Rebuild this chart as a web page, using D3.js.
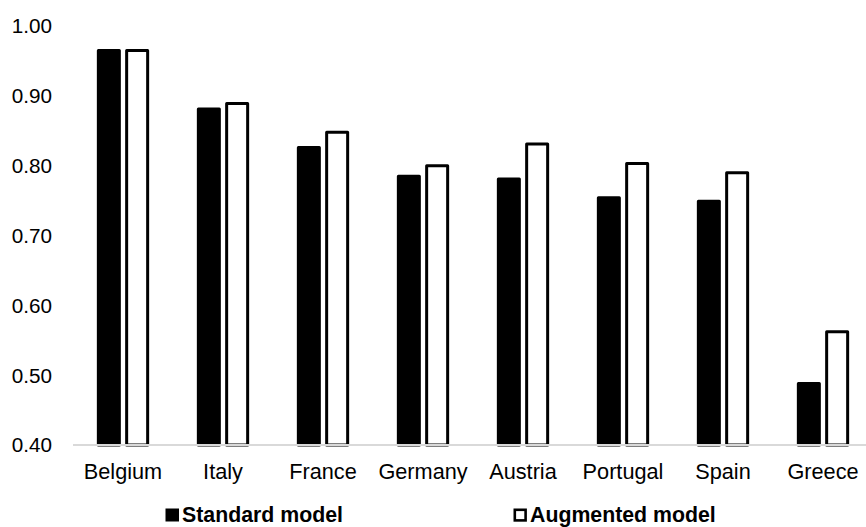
<!DOCTYPE html>
<html>
<head>
<meta charset="utf-8">
<script src="https://cdn.jsdelivr.net/npm/d3@7"></script>
<style>
  html, body { margin: 0; padding: 0; background: #fff; }
  svg { display: block; }
  text { font-family: "Liberation Sans", Arial, sans-serif; fill: #000; }
</style>
</head>
<body>
<svg id="chart" width="866" height="527"></svg>
<script>
const categories = ["Belgium", "Italy", "France", "Germany", "Austria", "Portugal", "Spain", "Greece"];
const seriesNames = ["Standard model", "Augmented model"];
const standardValues = [0.965, 0.881, 0.826, 0.785, 0.781, 0.754, 0.749, 0.488];
const augmentedValues = [0.965, 0.889, 0.848, 0.800, 0.831, 0.803, 0.790, 0.562];
const yTicks = [0.40, 0.50, 0.60, 0.70, 0.80, 0.90, 1.00];

const svg = d3.select("#chart");

const x0 = d3.scaleBand().domain(categories).range([73, 873]).padding(0);
const x1 = d3.scaleBand().domain(seriesNames).range([50 - 26.15, 50 + 26.15]).paddingInner(0.152).paddingOuter(0);
const y = d3.scaleLinear().domain([0.4, 1.0]).range([445, 26]);

const fills = { "Standard model": "#000", "Augmented model": "#fff" };
const seriesValues = { "Standard model": standardValues, "Augmented model": augmentedValues };

// Y tick labels
svg.append("g").selectAll("text").data(yTicks).join("text")
  .attr("x", 52)
  .attr("y", d => y(d))
  .attr("dy", "0.36em")
  .attr("text-anchor", "end")
  .style("font-size", "20.7px")
  .text(d => d.toFixed(2));

// Bars
const groups = svg.append("g").selectAll("g").data(categories).join("g")
  .attr("transform", d => `translate(${x0(d)},0)`);

groups.selectAll("rect").data((c, i) => seriesNames.map(s => ({ s, v: seriesValues[s][i] }))).join("rect")
  .attr("x", d => x1(d.s) + 1.5)
  .attr("width", x1.bandwidth() - 3)
  .attr("y", d => y(d.v))
  .attr("height", d => y(0.4) - y(d.v))
  .attr("fill", d => fills[d.s])
  .attr("stroke", "#000")
  .attr("stroke-width", 3)
  .attr("stroke-linejoin", "round");

// Baseline axis line
svg.append("line")
  .attr("x1", 73).attr("x2", 866)
  .attr("y1", y(0.4)).attr("y2", y(0.4))
  .attr("stroke", "#d9d9d9").attr("stroke-width", 2);

// Category labels
svg.append("g").selectAll("text").data(categories).join("text")
  .attr("x", d => x0(d) + x0.bandwidth() / 2)
  .attr("y", 479)
  .attr("text-anchor", "middle")
  .style("font-size", "21.7px")
  .text(d => d);

// Legend
const legendX = { "Standard model": 165.5, "Augmented model": 513.5 };
const leg = svg.append("g").selectAll("g").data(seriesNames).join("g")
  .attr("transform", d => `translate(${legendX[d]},0)`);
leg.append("rect")
  .attr("x", d => fills[d] === "#000" ? 0 : 1.3)
  .attr("y", d => fills[d] === "#000" ? 508.5 : 509.8)
  .attr("width", d => fills[d] === "#000" ? 13.5 : 10.8)
  .attr("height", d => fills[d] === "#000" ? 13 : 10.6)
  .attr("fill", d => fills[d])
  .attr("stroke", d => fills[d] === "#000" ? "none" : "#000")
  .attr("stroke-width", 2.6);
leg.append("text")
  .attr("x", 16.5)
  .attr("y", 522)
  .style("font-size", "21.3px")
  .style("font-weight", "bold")
  .text(d => d);
</script>
</body>
</html>
